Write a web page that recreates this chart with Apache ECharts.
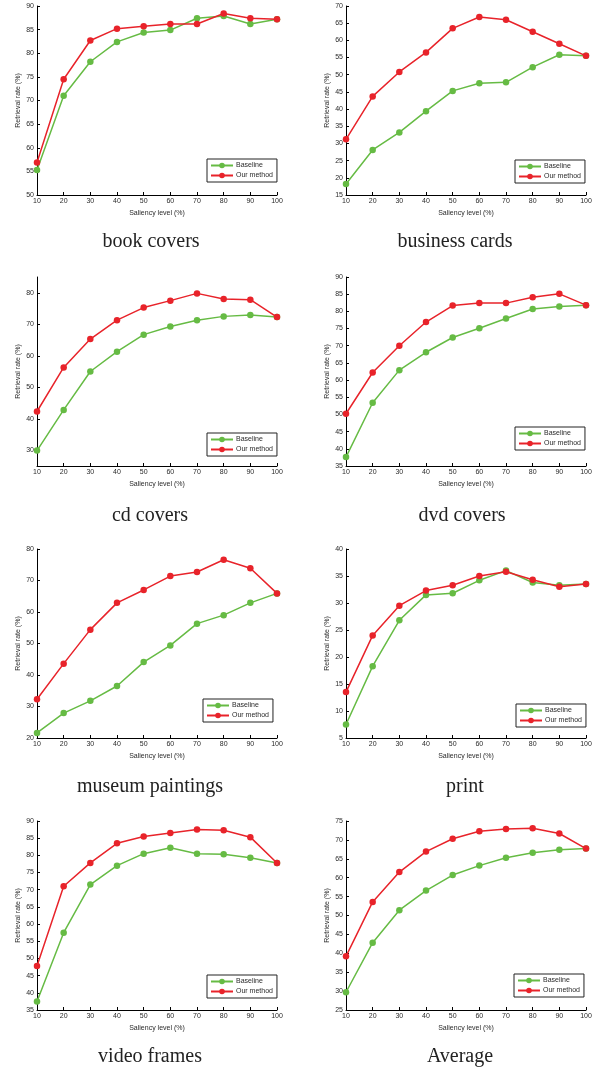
<!DOCTYPE html>
<html>
<head>
<meta charset="utf-8">
<script src="https://cdn.jsdelivr.net/npm/echarts@6/dist/echarts.min.js"></script>
<style>
html,body{margin:0;padding:0;background:#fff;}
#chart{width:601px;height:1072px;}
</style>
</head>
<body>
<div id="chart"></div>
<script>
const saliency = [10, 20, 30, 40, 50, 60, 70, 80, 90, 100];
const seriesNames = ['Baseline', 'Our method'];
const captions = ['book covers', 'business cards', 'cd covers', 'dvd covers', 'museum paintings', 'print', 'video frames', 'Average'];

const bookBaseline = [55.3, 71.0, 78.2, 82.4, 84.4, 84.9, 87.4, 87.9, 86.2, 87.2];
const bookOurs     = [56.9, 74.5, 82.7, 85.2, 85.7, 86.2, 86.2, 88.4, 87.4, 87.2];
const cardsBaseline = [18.2, 28.1, 33.2, 39.4, 45.3, 47.5, 47.8, 52.2, 55.8, 55.5];
const cardsOurs     = [31.2, 43.7, 50.8, 56.5, 63.5, 66.8, 66.0, 62.5, 59.0, 55.5];
const cdBaseline = [29.9, 42.8, 55.0, 61.3, 66.7, 69.3, 71.3, 72.5, 72.9, 72.3];
const cdOurs     = [42.3, 56.3, 65.3, 71.3, 75.3, 77.5, 79.8, 78.0, 77.8, 72.3];
const dvdBaseline = [37.6, 53.4, 62.9, 68.1, 72.4, 75.1, 77.9, 80.7, 81.4, 81.8];
const dvdOurs     = [50.2, 62.2, 70.0, 76.9, 81.7, 82.4, 82.4, 84.1, 85.1, 81.8];
const museumBaseline = [21.6, 27.9, 31.8, 36.5, 44.1, 49.4, 56.3, 59.0, 62.9, 65.9];
const museumOurs     = [32.3, 43.6, 54.4, 62.9, 67.0, 71.4, 72.7, 76.6, 73.9, 65.9];
const printBaseline = [7.5, 18.3, 26.8, 31.5, 31.8, 34.2, 36.0, 33.8, 33.3, 33.5];
const printOurs     = [13.5, 24.0, 29.5, 32.3, 33.3, 35.0, 35.8, 34.3, 33.0, 33.5];
const videoBaseline = [37.5, 57.5, 71.5, 77.0, 80.5, 82.2, 80.5, 80.3, 79.3, 77.8];
const videoOurs     = [47.8, 71.0, 77.8, 83.5, 85.5, 86.5, 87.5, 87.3, 85.3, 77.8];
const avgBaseline = [29.7, 42.8, 51.4, 56.6, 60.7, 63.2, 65.3, 66.6, 67.4, 67.7];
const avgOurs     = [39.2, 53.6, 61.5, 66.9, 70.3, 72.3, 72.9, 73.1, 71.7, 67.7];

const yMins = [50, 15, 25, 35, 20, 5, 35, 25];
const yMaxs = [90, 70, 85, 90, 80, 40, 90, 75];
const yTickLabels = [
  [50, 55, 60, 65, 70, 75, 80, 85, 90],
  [15, 20, 25, 30, 35, 40, 45, 50, 55, 60, 65, 70],
  [30, 40, 50, 60, 70, 80],
  [35, 40, 45, 50, 55, 60, 65, 70, 75, 80, 85, 90],
  [20, 30, 40, 50, 60, 70, 80],
  [5, 10, 15, 20, 25, 30, 35, 40],
  [35, 40, 45, 50, 55, 60, 65, 70, 75, 80, 85, 90],
  [25, 30, 35, 40, 45, 50, 55, 60, 65, 70, 75]
];
const xTickLabels = [10, 20, 30, 40, 50, 60, 70, 80, 90, 100];

const baselines = [bookBaseline, cardsBaseline, cdBaseline, dvdBaseline, museumBaseline, printBaseline, videoBaseline, avgBaseline];
const ours = [bookOurs, cardsOurs, cdOurs, dvdOurs, museumOurs, printOurs, videoOurs, avgOurs];

// layout
const colLeft = [37, 346];
const plotWidth = 240;
const rowTop = [6, 277, 549, 821];
const plotHeight = 189;
const legendPos = [
  [207, 159], [515, 160], [207, 433], [515, 427],
  [203, 699], [516, 704], [207, 975], [514, 974]
];
const captionPos = [
  [151, 242], [455, 242], [150, 516], [462, 516],
  [150, 787], [465, 787], [150, 1057], [460, 1057]
];

const GREEN = '#66bb44';
const RED = '#e8232a';
const textColor = '#2a2a2a';
const axisFont = 'Liberation Sans, Arial, sans-serif';

const grids = [], xAxes = [], yAxes = [], series = [], legends = [], graphics = [];
for (let i = 0; i < 8; i++) {
  const col = i % 2, row = Math.floor(i / 2);
  grids.push({ left: colLeft[col], top: rowTop[row], width: plotWidth, height: plotHeight, containLabel: false });
  xAxes.push({
    type: 'value', gridIndex: i, min: 10, max: 100,
    name: 'Saliency level (%)', nameLocation: 'middle', nameGap: 15,
    nameTextStyle: { fontSize: 7, color: textColor, fontFamily: axisFont },
    axisLine: { show: true, lineStyle: { color: '#000', width: 1 } },
    axisTick: { show: true, inside: true, length: 3, lineStyle: { color: '#000' }, customValues: xTickLabels },
    axisLabel: { fontSize: 7, color: textColor, fontFamily: axisFont, margin: 3, customValues: xTickLabels },
    splitLine: { show: false }
  });
  yAxes.push({
    type: 'value', gridIndex: i, min: yMins[i], max: yMaxs[i],
    name: 'Retrieval rate (%)', nameLocation: 'middle', nameGap: 15,
    nameTextStyle: { fontSize: 7, color: textColor, fontFamily: axisFont },
    axisLine: { show: true, lineStyle: { color: '#000', width: 1 } },
    axisTick: { show: true, inside: true, length: 3, lineStyle: { color: '#000' }, customValues: yTickLabels[i] },
    axisLabel: { fontSize: 7, color: textColor, fontFamily: axisFont, margin: 3, customValues: yTickLabels[i] },
    splitLine: { show: false }
  });
  const b = baselines[i], o = ours[i];
  series.push({
    name: seriesNames[0], type: 'line', xAxisIndex: i, yAxisIndex: i,
    data: saliency.map((x, k) => [x, b[k]]),
    symbol: 'circle', symbolSize: 6.5, showSymbol: true,
    lineStyle: { color: GREEN, width: 1.5 }, itemStyle: { color: GREEN },
    animation: false, z: 2
  });
  series.push({
    name: seriesNames[1], type: 'line', xAxisIndex: i, yAxisIndex: i,
    data: saliency.map((x, k) => [x, o[k]]),
    symbol: 'circle', symbolSize: 6.5, showSymbol: true,
    lineStyle: { color: RED, width: 1.5 }, itemStyle: { color: RED },
    animation: false, z: 3
  });
  legends.push({
    data: seriesNames, orient: 'vertical',
    left: legendPos[i][0], top: legendPos[i][1],
    backgroundColor: '#fff', borderColor: '#222', borderWidth: 1,
    padding: [3, 4, 3, 3], itemGap: 3, itemWidth: 22, itemHeight: 7,
    textStyle: { fontSize: 7, color: textColor, fontFamily: axisFont, padding: [0, 0, 0, -2] },
    selectedMode: false
  });
  graphics.push({
    type: 'text', x: captionPos[i][0], y: captionPos[i][1],
    style: { text: captions[i], fill: '#222', font: '20px "Liberation Serif", "Times New Roman", serif',
             textAlign: 'center', textVerticalAlign: 'middle' }
  });
}

const chart = echarts.init(document.getElementById('chart'), null, { renderer: 'canvas' });
chart.setOption({
  animation: false,
  backgroundColor: '#fff',
  grid: grids, xAxis: xAxes, yAxis: yAxes, series: series, legend: legends,
  graphic: graphics
});
</script>
</body>
</html>
